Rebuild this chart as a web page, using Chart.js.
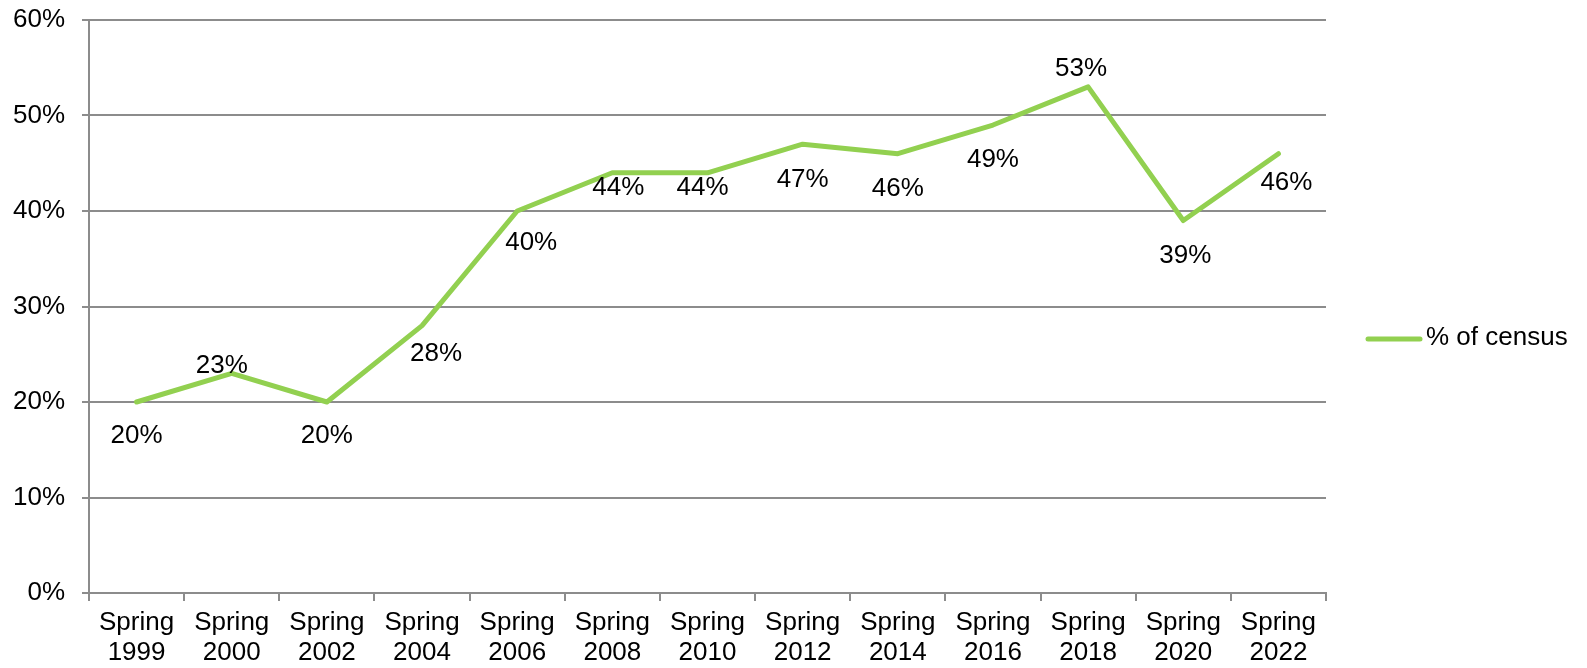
<!DOCTYPE html>
<html lang="en">

<head>
    <meta charset="UTF-8">
    <title>% of census</title>
    <script src="https://cdn.jsdelivr.net/npm/chart.js"></script>
    <style>
        html, body {
            margin: 0;
            padding: 0;
            background: #ffffff;
            overflow: hidden;
        }

        .chart-container {
            width: 1587px;
            height: 668px;
        }
    </style>
</head>

<body>
    <div class="chart-container">
        <canvas id="censusChart" width="1587" height="668"></canvas>
    </div>

    <script>
        // Chart data
        const categories = [
            ['Spring', '1999'], ['Spring', '2000'], ['Spring', '2002'], ['Spring', '2004'],
            ['Spring', '2006'], ['Spring', '2008'], ['Spring', '2010'], ['Spring', '2012'],
            ['Spring', '2014'], ['Spring', '2016'], ['Spring', '2018'], ['Spring', '2020'],
            ['Spring', '2022']
        ];
        const censusPct = [20, 23, 20, 28, 40, 44, 44, 47, 46, 49, 53, 39, 46];
        const seriesName = '% of census';
        const yTicks = [0, 10, 20, 30, 40, 50, 60];

        const FONT = '"Liberation Sans", Arial, sans-serif';
        const GREEN = '#92D050';
        const GRID = '#8c8c8c';

        // where each value label sits relative to its point (dx, dy)
        const labelOffsets = [
            [0, 34], [-10, -8], [0, 34], [14, 28], [14, 32], [6, 15], [-5, 15],
            [0, 36], [0, 35], [0, 35], [-7, -18], [2, 35], [8, 29]
        ];

        const valueLabels = {
            id: 'valueLabels',
            afterDatasetsDraw(chart) {
                const ctx = chart.ctx;
                const meta = chart.getDatasetMeta(0);
                ctx.save();
                ctx.font = '26px ' + FONT;
                ctx.fillStyle = '#000000';
                ctx.textAlign = 'center';
                ctx.textBaseline = 'middle';
                meta.data.forEach((pt, i) => {
                    const off = labelOffsets[i] || [0, 30];
                    ctx.fillText(censusPct[i] + '%', pt.x + off[0], pt.y + off[1]);
                });
                ctx.restore();
            }
        };

        // legend drawn to the right of the plot
        const sideLegend = {
            id: 'sideLegend',
            afterDraw(chart) {
                const ctx = chart.ctx;
                const y = 339;
                ctx.save();
                ctx.strokeStyle = GREEN;
                ctx.lineWidth = 5;
                ctx.lineCap = 'round';
                ctx.beginPath();
                ctx.moveTo(1368, y);
                ctx.lineTo(1420, y);
                ctx.stroke();
                ctx.font = '26px ' + FONT;
                ctx.fillStyle = '#000000';
                ctx.textAlign = 'left';
                ctx.textBaseline = 'middle';
                ctx.fillText(seriesName, 1426, y - 1);
                ctx.restore();
            }
        };

        const ctx = document.getElementById('censusChart').getContext('2d');
        const censusChart = new Chart(ctx, {
            type: 'line',
            data: {
                labels: categories,
                datasets: [{
                    label: seriesName,
                    data: censusPct,
                    borderColor: GREEN,
                    backgroundColor: GREEN,
                    borderWidth: 5,
                    borderCapStyle: 'round',
                    borderJoinStyle: 'round',
                    pointRadius: 0,
                    pointHoverRadius: 0,
                    tension: 0,
                    fill: false
                }]
            },
            options: {
                responsive: false,
                animation: false,
                devicePixelRatio: 1,
                layout: {
                    padding: { left: 13, top: 20, right: 261, bottom: 0 }
                },
                plugins: {
                    legend: { display: false },
                    tooltip: { enabled: false }
                },
                scales: {
                    x: {
                        offset: true,
                        afterFit(scale) {
                            scale.height = 75;
                        },
                        grid: {
                            offset: true,
                            drawOnChartArea: false,
                            drawTicks: true,
                            tickLength: 8,
                            color: GRID,
                            lineWidth: 2
                        },
                        border: { color: GRID, width: 2 },
                        ticks: {
                            color: '#000000',
                            font: { family: FONT, size: 26, lineHeight: 1.18 },
                            padding: 6,
                            maxRotation: 0,
                            autoSkip: false
                        }
                    },
                    y: {
                        min: yTicks[0],
                        max: yTicks[yTicks.length - 1],
                        afterBuildTicks(scale) {
                            scale.ticks = yTicks.map(v => ({ value: v }));
                        },
                        afterFit(scale) {
                            scale.width = 76;
                            scale.paddingTop = 0;
                            scale.paddingBottom = 0;
                        },
                        grid: {
                            color: GRID,
                            lineWidth: 2,
                            tickLength: 7
                        },
                        border: { color: GRID, width: 2 },
                        ticks: {
                            color: '#000000',
                            font: { family: FONT, size: 26 },
                            padding: 17,
                            callback: v => v + '%'
                        }
                    }
                }
            },
            plugins: [valueLabels, sideLegend]
        });
    </script>
</body>

</html>
